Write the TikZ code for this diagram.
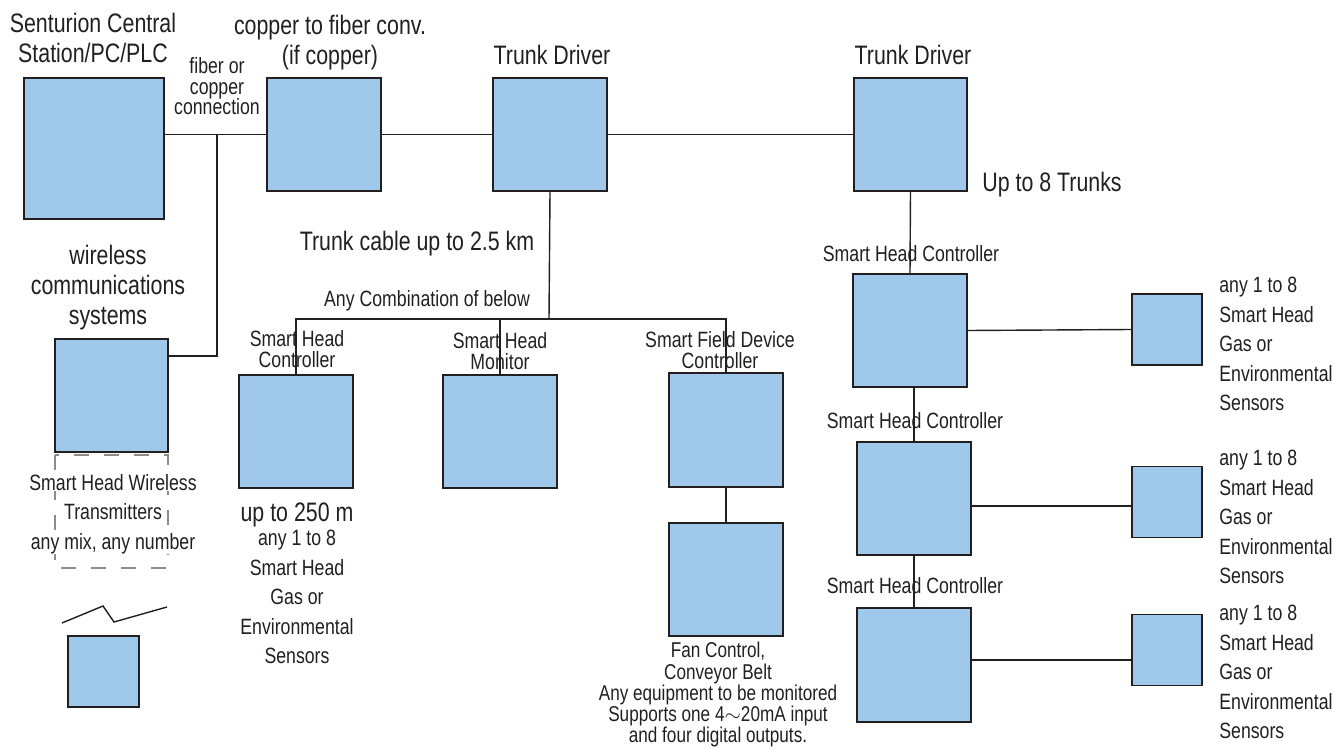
\documentclass[tikz,border=0pt]{standalone}
\usepackage{fontspec}
\setmainfont{Liberation Sans}[FakeStretch=0.8]
\definecolor{sntBlue}{HTML}{A0C8EA}
\definecolor{sntInk}{HTML}{231F20}
\definecolor{sntDash}{HTML}{8C8C8C}
\newcommand{\wbox}[1]{{\fboxsep=0pt\colorbox{white}{#1}}}
\tikzset{
    unit/.style={draw=sntInk, line width=1pt, fill=sntBlue, inner sep=0pt, minimum width=2.27cm, minimum height=2.27cm},
    bigunit/.style={unit, minimum width=2.8cm, minimum height=2.82cm},
    smallunit/.style={unit, minimum width=1.41cm, minimum height=1.42cm},
    wire/.style={draw=sntInk, line width=0.8pt},
    dashframe/.style={draw=sntDash, line width=0.8pt, dash pattern=on 8.5pt off 8.5pt},
    headtxt/.style={font=\fontsize{15.2}{17}\selectfont, text=sntInk, align=center, inner sep=0pt, anchor=north},
    smalltxt/.style={font={\fontsize{12.6}{11.8}\selectfont\lineskiplimit=-20pt}, text=sntInk, align=center, inner sep=0pt, anchor=north},
    finetxt/.style={smalltxt, font={\fontsize{12.2}{12.1}\selectfont\lineskiplimit=-20pt}},
    listtxt/.style={font=\fontsize{12.6}{16.8}\selectfont, text=sntInk, align=center, inner sep=0pt, anchor=north},
    sidetxt/.style={listtxt, align=left, anchor=north west}
}
\begin{document}
\begin{tikzpicture}[x=0.02cm, y=-0.02cm]
\useasboundingbox (0,0) rectangle (1336,750);
\node[bigunit] (central) at (94,148.5) {};
\node[unit] (conv) at (324,134.5) {};
\node[unit] (tdA) at (550,134.5) {};
\node[unit] (tdB) at (910.5,134.5) {};
\node[unit] (wless) at (111.5,395.5) {};
\node[smallunit] (tx) at (103.5,671.5) {};
\node[unit] (shcA) at (296,431.5) {};
\node[unit] (mon) at (500,431.5) {};
\node[unit] (sfdc) at (726,430) {};
\node[unit] (fan) at (726,579.5) {};
\node[unit] (shcB) at (910,330.5) {};
\node[unit] (shcC) at (914,498.5) {};
\node[unit] (shcD) at (914,665) {};
\node[smallunit] (senB) at (1167,329.5) {};
\node[smallunit] (senC) at (1167,502) {};
\node[smallunit] (senD) at (1167,650) {};
\node[headtxt] (tCentral) at (93,13) {Senturion Central\\Station/PC/PLC};
\node[headtxt] (tConv) at (330,15) {copper to fiber conv.\\(if copper)};
\node[smalltxt] (tLink) at (217,57) {fiber or\\copper\\connection};
\node[headtxt] (tTdA) at (552,45) {Trunk Driver};
\node[headtxt] (tTdB) at (913,45) {Trunk Driver};
\node[headtxt, anchor=north west] (tTrunks) at (982,172) {Up to 8 Trunks};
\node[headtxt] (tCable) at (417,231) {Trunk cable up to 2.5 km};
\node[smalltxt] (tCombo) at (427,290) {Any Combination of below};
\node[headtxt] (tWless) at (108,245) {wireless\\communications\\systems};
\node[smalltxt] (tShcA) at (297,330) {Smart Head\\Controller};
\node[smalltxt] (tMon) at (500,332) {Smart Head\\Monitor};
\node[smalltxt] (tSfdc) at (720,331) {Smart Field Device\\Controller};
\node[headtxt] (tRange) at (297,502) {up to 250 m};
\node[listtxt] (tSensA) at (297,530) {any 1 to 8\\Smart Head\\Gas or\\Environmental\\Sensors};
\draw[dashframe] (55,455) rectangle (168,568);
\node[listtxt] (tTx) at (113,474) {\wbox{Smart Head Wireless}\\Transmitters\\\wbox{any mix, any number}};
\node[finetxt] (tFan) at (718,642) {Fan Control,\\Conveyor Belt\\Any equipment to be monitored\\Supports one 4$\sim$20mA input\\and four digital outputs.};
\node[smalltxt] (tShcB) at (911,245) {Smart Head Controller};
\node[smalltxt] (tShcC) at (915,412) {Smart Head Controller};
\node[smalltxt] (tShcD) at (915,577) {Smart Head Controller};
\node[sidetxt] (tSensB) at (1219,277) {any 1 to 8\\Smart Head\\Gas or\\Environmental\\Sensors};
\node[sidetxt] (tSensC) at (1219,450) {any 1 to 8\\Smart Head\\Gas or\\Environmental\\Sensors};
\node[sidetxt] (tSensD) at (1219,605) {any 1 to 8\\Smart Head\\Gas or\\Environmental\\Sensors};
\coordinate (jn) at (217,134.5);
\coordinate (bus) at (549,319);
\coordinate (tapC) at ([yshift=-0.08cm]senC.west);
\coordinate (tapD) at ([yshift=-0.2cm]senD.west);
\draw[wire] (central.east |- conv.west) -- (conv.west); \draw[wire] (jn) |- ([yshift=-0.36cm]wless.north east);
\draw[wire] (conv.east) -- (tdA.west); \draw[wire] (tdA.east) -- (tdB.west);
\draw[wire] (tdA.south) -- (bus); \draw[wire] (shcA.north) -- (shcA.north |- bus) -- (sfdc.north |- bus) -- (sfdc.north); \draw[wire] (mon.north) -- (mon.north |- bus);
\draw[wire] (sfdc.south) -- (fan.north);
\draw[wire] (tdB.south) -- (shcB.north); \draw[wire] (shcC.north) -- (shcC.north |- shcB.south); \draw[wire] (shcC.south) -- (shcD.north);
\draw[wire] (shcB.east) -- (senB.west); \draw[wire] (tapC -| shcC.east) -- (tapC); \draw[wire] (tapD -| shcD.east) -- (tapD);
\draw[wire] (62,623) -- (103,606) -- (114,622) -- (167,607);
\end{tikzpicture}
\end{document}
